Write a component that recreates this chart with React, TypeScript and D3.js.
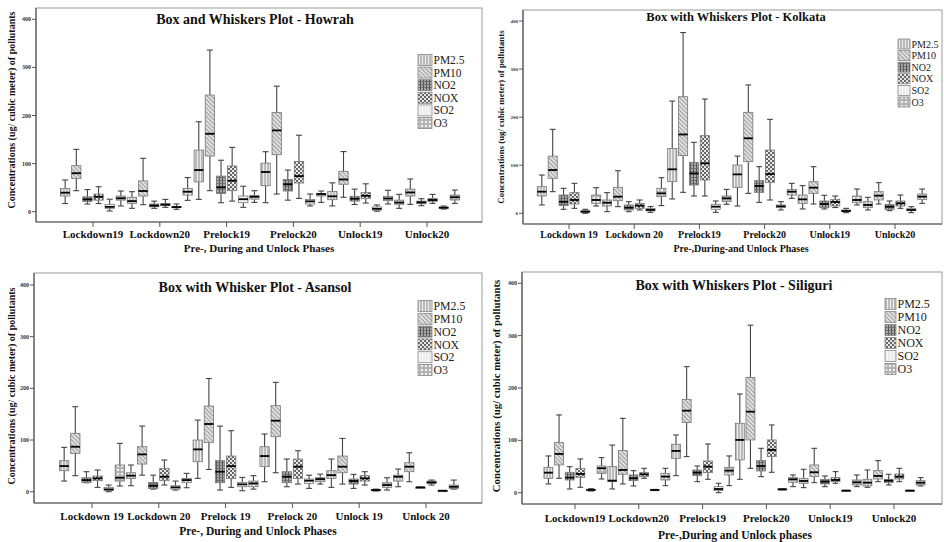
import React from "react";
import * as d3 from "d3";

const pollutants = ["PM2.5", "PM10", "NO2", "NOX", "SO2", "O3"];
const yTicks = [0, 100, 200, 300, 400];

const howrahPhases = ["Lockdown19", "Lockdown20", "Prelock19", "Prelock20", "Unlock19", "Unlock20"];
const kolkataPhases = ["Lockdown 19", "Lockdown 20", "Prelock19", "Prelock20", "Unlock19", "Unlock20"];
const asansolPhases = ["Lockdown 19", "Lockdown 20", "Prelock 19", "Prelock 20", "Unlock 19", "Unlock 20"];
const siliguriPhases = ["Lockdown19", "Lockdown20", "Prelock19", "Prelock20", "Unlock19", "Unlock20"];

// [min, q1, median, q3, max] per pollutant (PM2.5, PM10, NO2, NOX, SO2, O3), one row per phase
const howrahStats = [
  [[17, 32.6, 39.5, 48.5, 66], [43.7, 69, 80, 95.6, 129.6], [16, 21, 25.6, 31, 46], [17, 24, 31, 36.7, 52], [1.5, 7, 10, 15, 26], [12, 24, 28, 32.6, 43]],
  [[7, 17, 22, 30, 41.6], [14.6, 32.6, 43, 64, 111], [7, 10.4, 12.5, 16, 22], [9, 12.5, 14.6, 17, 25.6], [5, 8.3, 9.7, 11, 16], [23.6, 34.6, 41.6, 48.5, 71]],
  [[25.6, 62, 86.6, 128, 187], [43.7, 115.7, 162, 242.5, 336], [18.7, 38, 50.6, 74, 107], [22, 43.7, 64.4, 95, 133.7], [9, 18.7, 26, 32.6, 53], [19.4, 26, 31, 34, 43.7]],
  [[18.7, 54, 82.5, 101, 124.7], [36.7, 118.5, 169, 206, 261], [24, 43, 57, 67, 86.6], [27.7, 59.6, 74, 104.6, 159], [12, 16, 21.5, 25.6, 36.7], [19.4, 32.6, 36.7, 38, 43]],
  [[12, 25, 32, 42, 60], [30, 57, 67, 84, 125], [15, 22, 27, 32, 47], [18, 27, 33, 40, 58], [1, 3, 6, 10, 14], [16, 23, 27.5, 32, 44.5]],
  [[7, 15.4, 19, 24, 36], [15.3, 32.6, 40, 47, 68], [12.5, 16.6, 19.4, 22, 27], [17.3, 21.5, 24.3, 27.7, 36], [5.5, 7, 8.3, 9.7, 11.8], [17.3, 24.3, 30, 34.6, 45]],
];

const kolkataStats = [
  [[17.3, 36, 45, 55.4, 79.6], [45, 72.8, 90, 119, 174.6], [8.3, 16, 24, 38, 52], [10.3, 19.3, 27.7, 43, 62.3], [0, 2, 3.4, 5.5, 8.3], [15.2, 20.8, 27.7, 38, 53.3]],
  [[3.4, 15.2, 22, 27.7, 43], [13.8, 26.3, 34.6, 54, 88.6], [3.4, 6.9, 11.7, 17.3, 24.2], [6.9, 10.3, 15.9, 20.8, 27.7], [2, 5, 7, 10, 14], [16, 34.6, 41.5, 52, 74]],
  [[29.8, 65.8, 91.5, 135, 233.5], [43.6, 120, 164, 242.5, 376], [36, 58.8, 83, 106, 147.6], [36, 69.2, 104, 161.5, 237.7], [2, 8.3, 13.8, 18.7, 25.6], [18.7, 24.2, 31.1, 36, 49.8]],
  [[15.2, 54, 81, 100.4, 119], [41.5, 107.4, 156, 210, 267], [22.8, 43.6, 56.8, 67.9, 97], [27.7, 64.4, 81.7, 131.6, 195.4], [6.9, 11.7, 14.5, 17.3, 24.2], [31.1, 38, 45, 49.8, 62.3]],
  [[9, 20.7, 29, 38, 57.5], [19.3, 41.5, 53.3, 65.8, 97], [9, 11.7, 19.3, 25.6, 37.4], [12, 15.2, 23.5, 29, 36], [1.3, 3.4, 4.8, 6.9, 10.3], [17.3, 22, 27.7, 36, 50.5]],
  [[6.9, 11.7, 17.3, 24.2, 33.2], [19.3, 27.7, 36.7, 45, 63.7], [5.5, 8.3, 13.8, 18.7, 25.6], [10.3, 15.2, 20.7, 25.6, 38], [1.3, 5.5, 6.9, 10.3, 13.8], [20.7, 29, 34.6, 40, 50.5]],
];

const asansolStats = [
  [[20.6, 40.6, 49.6, 60, 85.8], [31, 74, 87, 113, 164.5], [17.4, 18, 22.5, 27, 38.7], [8.4, 21.3, 25.8, 30.3, 42], [0, 2, 4.5, 8.4, 12.9], [11, 20.6, 27, 51.6, 93.5]],
  [[11.6, 25.8, 31, 36.7, 51.6], [32, 53.5, 72.2, 87, 127], [5, 6.4, 11.6, 18, 32], [12.9, 21.3, 29, 45, 61.3], [3.2, 5, 8.4, 11.6, 20.6], [7.7, 17.4, 22.5, 25.8, 35.5]],
  [[25.8, 58, 81.9, 100, 138.6], [43, 95.4, 131, 165.8, 219], [3.2, 17.4, 38.7, 60, 127], [8.4, 25.8, 49.6, 69, 118], [1.9, 9.6, 14.2, 18, 27.7], [5, 9.6, 16.1, 20.6, 31]],
  [[19.3, 48.4, 69, 87, 111.6], [36.7, 106.5, 137.4, 166.5, 211.6], [9.6, 17.4, 29, 38.7, 63.2], [14.8, 25.8, 48.4, 63.2, 79.3], [6.4, 16.1, 21.3, 24.5, 32], [14.8, 19.3, 24.5, 27, 34]],
  [[8.4, 25.8, 32, 40.6, 63.2], [14.8, 36.7, 48.4, 69, 103], [6.4, 14.8, 20.6, 24.5, 33.5], [12.9, 20.6, 25.8, 31, 38.7], [1.3, 1.9, 3.2, 4.5, 5], [3.2, 8.4, 12.9, 17.4, 27]],
  [[9.6, 20.6, 29, 32, 43.8], [19.3, 38.7, 48.4, 56, 75.4], [8.4, 8.4, 8.4, 8.4, 8.4], [12.9, 16.1, 18, 20.6, 22.5], [1.9, 1.9, 1.9, 1.9, 1.9], [5, 6.4, 9.6, 12.9, 22.5]],
];

const siliguriStats = [
  [[16.7, 27.5, 38.3, 48.5, 70.2], [27.5, 53, 74, 95.7, 148.5], [7.1, 24.3, 28.8, 39, 49.8], [10.3, 29.4, 35.8, 46.6, 64.5], [3.3, 4, 5.2, 6.5, 7.8], [26.2, 37, 46.6, 51, 67]],
  [[7.1, 21.1, 23, 49.8, 91], [16.7, 35.2, 43.4, 80.4, 142], [12.9, 23, 27.5, 33.9, 42.2], [27.5, 30.7, 35.2, 38.3, 46.6], [4.2, 4.6, 5.2, 5.8, 6.3], [13.5, 24.3, 30.7, 37, 46.6]],
  [[32.6, 65.7, 79.8, 92.5, 110.3], [68.9, 133.9, 156.7, 178.3, 240.8], [21.1, 32.6, 38.3, 43.4, 51], [25.6, 38.3, 49.8, 60.6, 93], [0.1, 4, 7.1, 11.6, 18], [13.5, 33.9, 42.2, 48.5, 70.2]],
  [[25.6, 62.6, 100.8, 132.6, 188.5], [46.6, 100.8, 154.8, 220, 320], [30.7, 41.5, 51, 61.3, 84.8], [39, 68.9, 81.7, 100.8, 129.4], [5.5, 6, 6.5, 7, 7.5], [11.6, 19.9, 25.6, 28.8, 33.9]],
  [[9.7, 18, 22.4, 27.5, 44.7], [19.2, 30.7, 39, 53, 84.8], [11.6, 16.7, 21.1, 25.6, 32], [18, 21.1, 24.3, 28.8, 40.3], [3.6, 3.8, 4, 4.2, 4.4], [11.6, 14.8, 19.9, 24.3, 33.9]],
  [[10.3, 12.9, 19.2, 25.6, 43.4], [21.1, 26.2, 32, 42.2, 61.3], [14.8, 19.2, 23, 25.6, 35.2], [21.1, 26.2, 30.7, 35.8, 46.6], [3.6, 3.8, 4, 4.2, 4.4], [12.9, 14.8, 19.2, 23, 28.8]],
];

const FONT = "'Liberation Serif', 'Times New Roman', serif";
const Y_LABEL = "Concentrations (ug/ cubic meter) of pollutants";

const panels = [
  {
    key: "howrah", title: "Box and Whiskers Plot - Howrah", phases: howrahPhases, stats: howrahStats,
    xTitle: "Pre-, During and Unlock Phases",
    frame: [36, 8, 482, 222], y0px: 211.7, y400px: 19.3, xFirst: 93, xLast: 427,
    titleX: 255, titleY: 24, titleSize: 14, catY: 238, catSize: 11, xTitleX: 259, xTitleY: 252, xTitleSize: 11,
    yLabX: 15, yLabY: 110, yLabSize: 10, tickSize: 6,
    legend: { x: 418, y: 60, step: 12.6, size: 11.5, w: 14, h: 11 },
  },
  {
    key: "kolkata", title: "Box with Whiskers Plot - Kolkata", phases: kolkataPhases, stats: kolkataStats,
    xTitle: "Pre-,During-and Unlock  Phases",
    frame: [523, 10, 942, 224], y0px: 213.3, y400px: 21, xFirst: 569, xLast: 895,
    titleX: 736, titleY: 21, titleSize: 12.5, catY: 238, catSize: 10, xTitleX: 741, xTitleY: 252, xTitleSize: 10,
    yLabX: 504, yLabY: 117, yLabSize: 8.8, tickSize: 5,
    legend: { x: 898, y: 44, step: 11.6, size: 10, w: 12, h: 10 },
  },
  {
    key: "asansol", title: "Box with Whisker Plot - Asansol", phases: asansolPhases, stats: asansolStats,
    xTitle: "Pre-, During and Unlock Phases",
    frame: [34, 273, 482, 503], y0px: 491.7, y400px: 285, xFirst: 92, xLast: 426,
    titleX: 255, titleY: 292, titleSize: 14, catY: 520, catSize: 11, xTitleX: 258, xTitleY: 535, xTitleSize: 11.5,
    yLabX: 15, yLabY: 386, yLabSize: 10, tickSize: 6,
    legend: { x: 418, y: 306, step: 12.8, size: 11.8, w: 14, h: 11 },
  },
  {
    key: "siliguri", title: "Box with Whiskers Plot - Siliguri", phases: siliguriPhases, stats: siliguriStats,
    xTitle: "Pre-,During and Unlock phases",
    frame: [522, 272, 942, 504], y0px: 492.7, y400px: 283.3, xFirst: 575, xLast: 894,
    titleX: 734, titleY: 290, titleSize: 14, catY: 522, catSize: 11, xTitleX: 735, xTitleY: 539, xTitleSize: 11.5,
    yLabX: 500, yLabY: 386, yLabSize: 10.8, tickSize: 6,
    legend: { x: 885, y: 304, step: 13, size: 12, w: 11, h: 11 },
  },
];

const patternIds = ["pPM25", "pPM10", "pNO2", "pNOX", "pSO2", "pO3"];

function Patterns() {
  return (
    <defs>
      <pattern id="pPM25" width="3" height="3" patternUnits="userSpaceOnUse">
        <rect width="3" height="3" fill="#ececec" />
        <line x1="1" y1="0" x2="1" y2="3" stroke="#8a8a8a" strokeWidth="1" />
      </pattern>
      <pattern id="pPM10" width="3" height="3" patternUnits="userSpaceOnUse" patternTransform="rotate(-45)">
        <rect width="3" height="3" fill="#e0e0e0" />
        <line x1="0" y1="0" x2="0" y2="3" stroke="#707070" strokeWidth="1.2" />
      </pattern>
      <pattern id="pNO2" width="3" height="3" patternUnits="userSpaceOnUse">
        <rect width="3" height="3" fill="#a8a8a8" />
        <line x1="0.5" y1="0" x2="0.5" y2="3" stroke="#555" strokeWidth="1" />
        <line x1="0" y1="0.5" x2="3" y2="0.5" stroke="#666" strokeWidth="0.8" />
      </pattern>
      <pattern id="pNOX" width="4" height="4" patternUnits="userSpaceOnUse">
        <rect width="4" height="4" fill="#e8e8e8" />
        <rect x="0" y="0" width="2" height="2" fill="#666" />
        <rect x="2" y="2" width="2" height="2" fill="#666" />
      </pattern>
      <pattern id="pSO2" width="3" height="3" patternUnits="userSpaceOnUse">
        <rect width="3" height="3" fill="#fbfbfb" />
        <line x1="1" y1="0" x2="1" y2="3" stroke="#dcdcdc" strokeWidth="1" />
      </pattern>
      <pattern id="pO3" width="4" height="4" patternUnits="userSpaceOnUse">
        <rect width="4" height="4" fill="#b4b4b4" />
        <circle cx="2" cy="2" r="1.1" fill="#fff" />
      </pattern>
    </defs>
  );
}

function Panel({ p }: { p: any }) {
  const [fx0, fy0, fx1, fy1] = p.frame;
  const y = d3.scaleLinear().domain([0, 400]).range([p.y0px, p.y400px]);
  const x = d3.scalePoint<string>().domain(p.phases).range([p.xFirst, p.xLast]);
  const step = (p.xLast - p.xFirst) / (p.phases.length - 1) / pollutants.length;
  const bw = step * 0.84;
  const cap = bw * 0.32;

  return (
    <g>
      <rect x={fx0} y={fy0} width={fx1 - fx0} height={fy1 - fy0} fill="#fff" stroke="#9a9a9a" strokeWidth={1} />
      <line x1={fx0} x2={fx0} y1={fy0} y2={fy1} stroke="#555" strokeWidth={1.2} />
      <line x1={fx0} x2={fx1} y1={fy1} y2={fy1} stroke="#555" strokeWidth={1.2} />
      {yTicks.map((t) => (
        <g key={t}>
          <line x1={fx0 - 4} x2={fx0} y1={y(t)} y2={y(t)} stroke="#555" />
          <text x={fx0 - 5} y={y(t) + 2} fontSize={p.tickSize} textAnchor="end" fontFamily={FONT} fontWeight="bold" fill="#333">{t}</text>
        </g>
      ))}
      {p.phases.map((ph: string) => (
        <g key={ph}>
          <line x1={x(ph)} x2={x(ph)} y1={fy1} y2={fy1 + 5} stroke="#555" />
          <text x={x(ph)} y={p.catY} fontSize={p.catSize} textAnchor="middle" fontFamily={FONT} fontWeight="bold" fill="#111">{ph}</text>
        </g>
      ))}
      {p.stats.map((row: number[][], i: number) =>
        row.map((s: number[], j: number) => {
          const cx = (x(p.phases[i]) as number) + (j - 2.5) * step;
          const [mn, q1, md, q3, mx] = s;
          const top = y(q3);
          const h = Math.max(1, y(q1) - y(q3));
          return (
            <g key={i + "-" + j}>
              <line x1={cx} x2={cx} y1={y(mx)} y2={y(q3)} stroke="#444" strokeWidth={1.1} />
              <line x1={cx} x2={cx} y1={y(q1)} y2={y(mn)} stroke="#444" strokeWidth={1.1} />
              <line x1={cx - cap} x2={cx + cap} y1={y(mx)} y2={y(mx)} stroke="#444" strokeWidth={1.1} />
              <line x1={cx - cap} x2={cx + cap} y1={y(mn)} y2={y(mn)} stroke="#444" strokeWidth={1.1} />
              <rect x={cx - bw / 2} y={top} width={bw} height={h} fill={`url(#${patternIds[j]})`} stroke="#777" strokeWidth={0.8} />
              <line x1={cx - bw / 2} x2={cx + bw / 2} y1={y(md)} y2={y(md)} stroke="#000" strokeWidth={1.8} />
            </g>
          );
        })
      )}
      <text x={p.titleX} y={p.titleY} fontSize={p.titleSize} textAnchor="middle" fontFamily={FONT} fontWeight="bold" fill="#111">{p.title}</text>
      <text x={p.xTitleX} y={p.xTitleY} fontSize={p.xTitleSize} textAnchor="middle" fontFamily={FONT} fontWeight="bold" fill="#111">{p.xTitle}</text>
      <text transform={`translate(${p.yLabX},${p.yLabY}) rotate(-90)`} fontSize={p.yLabSize} textAnchor="middle" fontFamily={FONT} fontWeight="bold" fill="#111">{Y_LABEL}</text>
      {pollutants.map((name, j) => {
        const cy = p.legend.y + j * p.legend.step;
        return (
          <g key={name}>
            <rect x={p.legend.x} y={cy - p.legend.h / 2} width={p.legend.w} height={p.legend.h} fill={`url(#${patternIds[j]})`} stroke="#888" strokeWidth={0.8} />
            <text x={p.legend.x + p.legend.w + 1.5} y={cy + p.legend.size * 0.35} fontSize={p.legend.size} fontFamily={FONT} fill="#222">{name}</text>
          </g>
        );
      })}
    </g>
  );
}

export default function App() {
  return (
    <svg width={944} height={542} style={{ position: "absolute", left: 0, top: 0, background: "#fff" }}>
      <Patterns />
      <rect x={0} y={0} width={944} height={542} fill="#fff" />
      {panels.map((p) => (
        <Panel key={p.key} p={p} />
      ))}
    </svg>
  );
}
